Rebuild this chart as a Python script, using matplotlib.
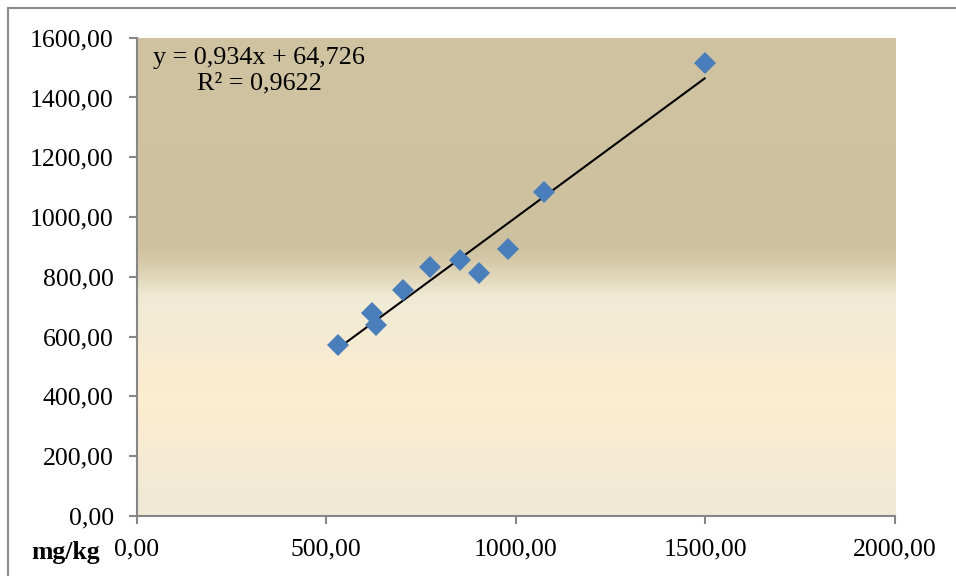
import numpy as np
import matplotlib
matplotlib.use("Agg")
import matplotlib.pyplot as plt
from matplotlib.ticker import FuncFormatter
from matplotlib.lines import Line2D

# ---- data ----
x_vals = [530, 620, 631, 703, 774, 853, 904, 980, 1073, 1498]
y_vals = [572, 680, 639, 757, 834, 855, 812, 893, 1083, 1514]
slope = 0.934
intercept = 64.726
r_squared = 0.9622
x_ticks = [0, 500, 1000, 1500, 2000]
y_ticks = [0, 200, 400, 600, 800, 1000, 1200, 1400, 1600]
x_unit_label = "mg/kg"

plt.rcParams['font.family'] = ['Liberation Serif', 'DejaVu Serif']

W, H = 956, 576
fig = plt.figure(figsize=(W / 100, H / 100), dpi=100)
fig.patch.set_facecolor('white')

left, right, top, bottom = 136.7, 895, 37.7, 516
ax = fig.add_axes([left / W, 1 - bottom / H, (right - left) / W, (bottom - top) / H])

# gradient background
stops_f = [0.0, 0.243, 0.458, 0.49, 0.53, 0.563, 1.0]
stops_c = np.array([
    [239, 233, 214],
    [253, 237, 208],
    [240, 234, 213],
    [228, 219, 192],
    [214, 202, 170],
    [206, 193, 159],
    [208, 195, 162],
]) / 255.0
fs = np.linspace(0, 1, 600)
img = np.stack([np.interp(fs, stops_f, stops_c[:, k]) for k in range(3)], axis=-1)
img = img[::-1, None, :]
ax.imshow(img, extent=[0, 1, 0, 1], transform=ax.transAxes, aspect='auto',
          zorder=0, interpolation='bilinear')

ax.set_xlim(0, 2000)
ax.set_ylim(0, 1600)

# trend line
xt = np.array([min(x_vals), max(x_vals)])
ax.plot(xt, slope * xt + intercept, color='black', lw=1.5, zorder=3)

# points
ax.plot(x_vals, y_vals, linestyle='none', marker='D', markersize=11,
        color='#4a7ebb', markeredgewidth=0, zorder=4)

fmt = FuncFormatter(lambda v, p: f"{v:.2f}".replace('.', ','))
ax.set_xticks(x_ticks)
ax.set_yticks(y_ticks)
ax.xaxis.set_major_formatter(fmt)
ax.yaxis.set_major_formatter(fmt)

spine_c = '#868686'
for s in ['top', 'right']:
    ax.spines[s].set_visible(False)
for s in ['left', 'bottom']:
    ax.spines[s].set_color(spine_c)
    ax.spines[s].set_linewidth(1.5)
ax.tick_params(axis='both', direction='out', length=5.5, width=1.5, color=spine_c,
               labelsize=18.5, labelcolor='black')
ax.tick_params(axis='y', pad=11)
ax.tick_params(axis='x', pad=11)

eq = f"y = {slope:.3f}x + {intercept:.3f}".replace('.', ',') + "\n" + \
     f"R² = {r_squared:.4f}".replace('.', ',')
ax.text((259 - left) / (right - left), 1 - (47 - top) / (bottom - top), eq,
        transform=ax.transAxes, ha='center', va='top', multialignment='center',
        fontsize=18.8, linespacing=1.2, zorder=5)

fig.text(66 / W, 1 - 553 / H, x_unit_label, ha='center', va='center',
         fontsize=18.5, fontweight='bold')

# outer chart border (cut off at right and bottom)
fig.add_artist(Line2D([8 / W, 1.0], [1 - 8 / H, 1 - 8 / H], transform=fig.transFigure,
                      color='#8a8a8a', lw=1.5))
fig.add_artist(Line2D([8 / W, 8 / W], [0.0, 1 - 8 / H], transform=fig.transFigure,
                      color='#8a8a8a', lw=1.5))

fig.savefig("out.png", dpi=100, facecolor='white')
